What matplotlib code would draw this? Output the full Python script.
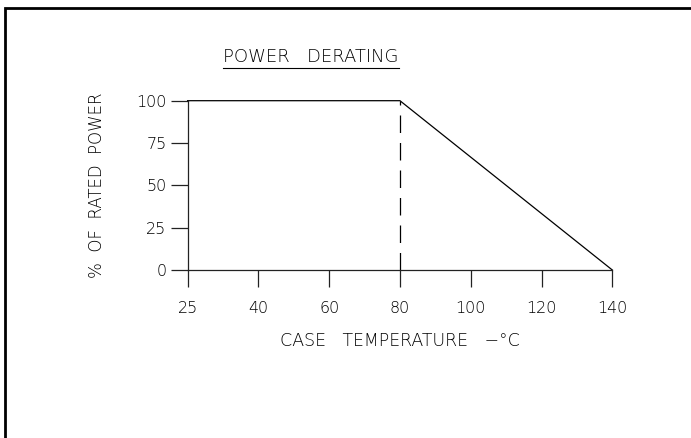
import matplotlib.pyplot as plt
from matplotlib.patches import Rectangle
from matplotlib.lines import Line2D

# curve (axis positions: label "25" sits where 20 would be)
temp = [20, 80, 140]
power = [100, 100, 0]
knee = 80

xticks = [20, 40, 60, 80, 100, 120, 140]
xlabels = ["25", "40", "60", "80", "100", "120", "140"]
yticks = [0, 25, 50, 75, 100]

W, H = 691, 438
fig = plt.figure(figsize=(W / 100, H / 100), dpi=100)
plt.rcParams['font.family'] = 'DejaVu Sans'
plt.rcParams['font.weight'] = 'light'
fs = 11.5

x0, x1 = 187.6, 612.3
y0, y1 = 270.0, 100.7
ax = fig.add_axes([x0 / W, 1 - y0 / H, (x1 - x0) / W, (y0 - y1) / H])
ax.set_xlim(20, 140)
ax.set_ylim(0, 100)

ax.plot(temp, power, color="black", lw=0.9, clip_on=False)
ax.plot([knee, knee], [0, 100], color="black", lw=0.9, ls=(0, (14, 8)), clip_on=False)

for s in ["top", "right"]:
    ax.spines[s].set_visible(False)
for s in ["left", "bottom"]:
    ax.spines[s].set_linewidth(0.9)
    ax.spines[s].set_color("#222222")

ax.set_xticks(xticks)
ax.set_xticklabels(xlabels)
ax.set_yticks(yticks)
ax.tick_params(direction="out", length=12.2, width=0.9, color="#222222",
               labelsize=fs, pad=3)
ax.tick_params(axis="x", pad=10)

ax.set_xlabel("CASE   TEMPERATURE   \u2212\u00b0C", fontsize=12.5, fontweight="light", labelpad=12)
ax.set_ylabel("%  OF  RATED  POWER", fontsize=12, fontweight="light", labelpad=22)

t = fig.text(311 / W, 1 - 57 / H, "POWER   DERATING", ha="center", va="center", fontsize=13)
fig.canvas.draw()
bb = t.get_window_extent()
fig.add_artist(Line2D([bb.x0 / W, bb.x1 / W], [1 - 68 / H, 1 - 68 / H],
                      color="black", lw=0.8))

fig.add_artist(Rectangle((5 / W, -0.1), 1.2, 1.1 - 8 / H, fill=False,
                         lw=2.0, ec="black", transform=fig.transFigure))

fig.savefig("out.png", dpi=100)
